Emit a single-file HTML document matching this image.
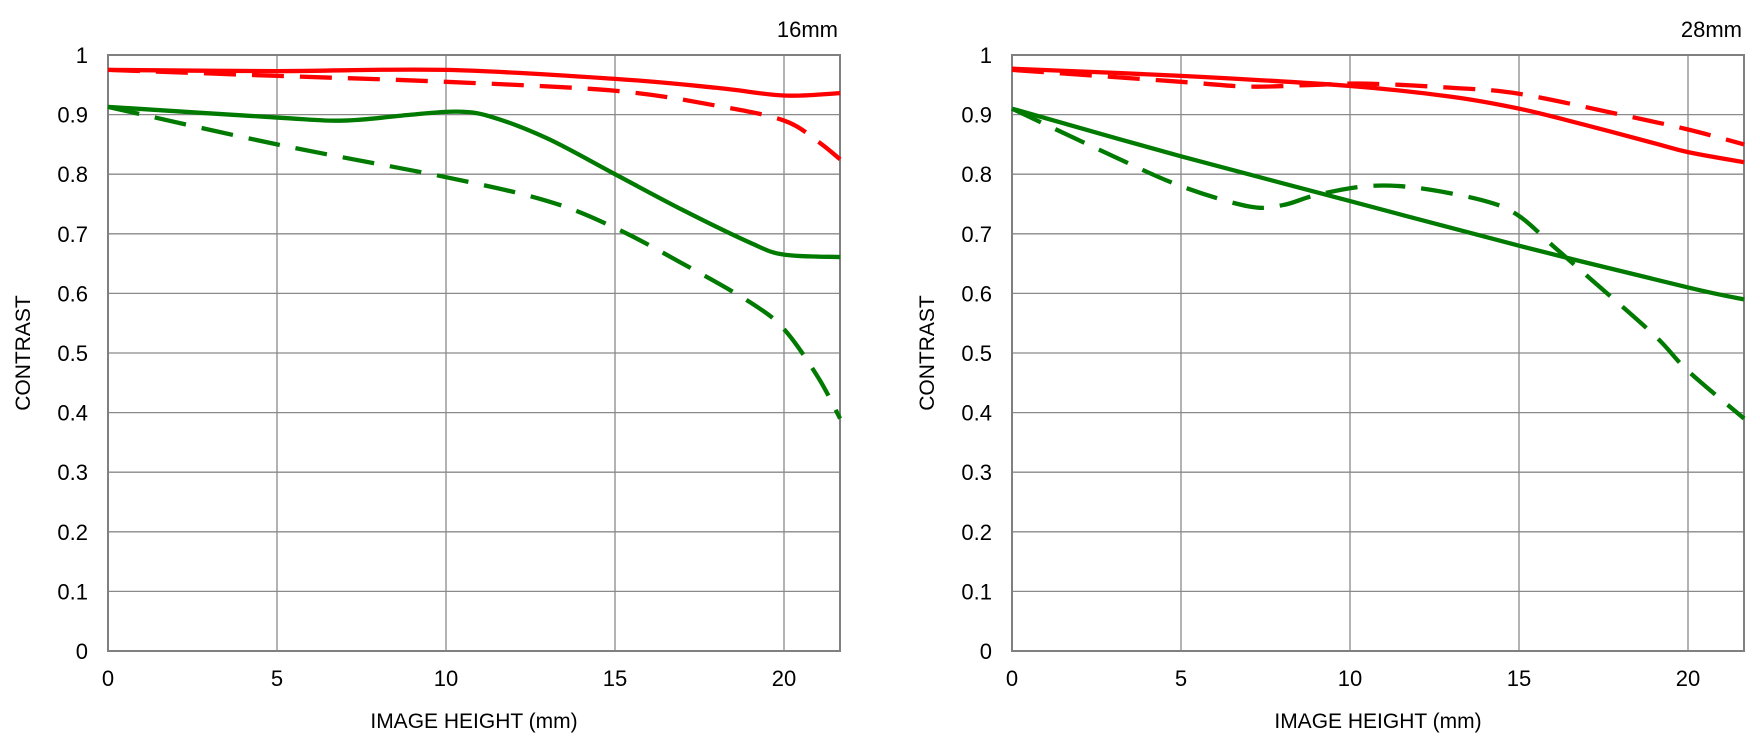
<!DOCTYPE html>
<html><head><meta charset="utf-8">
<style>
html,body{margin:0;padding:0;background:#fff;}
svg{display:block;font-family:"Liberation Sans","Noto Sans CJK JP",sans-serif;}
</style></head>
<body>
<svg id="s" width="1760" height="754" viewBox="0 0 1760 754" xmlns="http://www.w3.org/2000/svg">
<rect width="1760" height="754" fill="#fff"/>
</svg>
<script>
const S=document.getElementById('s');const NS='http://www.w3.org/2000/svg';
function el(t,a,txt){const e=document.createElementNS(NS,t);for(const k in a)e.setAttribute(k,a[k]);if(txt!==undefined)e.textContent=txt;S.appendChild(e);return e;}
const Y0=651,Y1=55,PX=33.8,W=732;
function chart(x0,title,series){
  const xr=x0+W;
  const yv=v=>Y0-(Y0-Y1)*v, xv=m=>x0+m*PX;
  for(let i=1;i<10;i++){el('line',{x1:x0,x2:xr,y1:yv(i/10),y2:yv(i/10),stroke:'#8a8a8a','stroke-width':1.3});}
  for(let m=5;m<=20;m+=5){el('line',{x1:xv(m),x2:xv(m),y1:Y1,y2:Y0,stroke:'#8a8a8a','stroke-width':1.3});}
  el('rect',{x:x0,y:Y1,width:W,height:Y0-Y1,fill:'none',stroke:'#808080','stroke-width':2});
  for(let i=0;i<=10;i++){const t=i==0?'0':i==10?'1':(i/10).toFixed(1);
    el('text',{x:x0-20,y:yv(i/10)+8,'text-anchor':'end','font-size':22,fill:'#000'},t);}
  for(let m=0;m<=20;m+=5){el('text',{x:xv(m),y:686,'text-anchor':'middle','font-size':22,fill:'#000'},String(m));}
  el('text',{x:x0+W/2,y:728,'text-anchor':'middle','font-size':21,fill:'#000'},'IMAGE HEIGHT (mm)');
  const cy=(Y0+Y1)/2;
  el('text',{x:x0-78,y:cy,'text-anchor':'middle','font-size':21,fill:'#000',transform:`rotate(-90 ${x0-78} ${cy})`},'CONTRAST');
  el('text',{x:xr-2,y:37,'text-anchor':'end','font-size':22,fill:'#000'},title);
  for(const s of series){
    const p=s.d.map(([m,v])=>[xv(m),yv(v)]);
    let d='M'+p[0][0]+','+p[0][1];
    for(let i=0;i<p.length-1;i++){
      const a=p[Math.max(0,i-1)],b=p[i],c=p[i+1],e=p[Math.min(p.length-1,i+2)];
      const c1=[b[0]+(c[0]-a[0])/6,b[1]+(c[1]-a[1])/6],c2=[c[0]-(e[0]-b[0])/6,c[1]-(e[1]-b[1])/6];
      d+=` C${c1[0]},${c1[1]} ${c2[0]},${c2[1]} ${c[0]},${c[1]}`;
    }
    const at={d:d,fill:'none',stroke:s.c,'stroke-width':4.3,'stroke-linejoin':'round'};
    if(s.dash)at['stroke-dasharray']='32,16';
    el('path',at);
  }
}
const R='#ff0000',G='#007a00';
const xe=21.66;
chart(108,'16mm',[
 {c:R,d:[[0,0.975],[5,0.973],[10,0.975],[15,0.96],[18,0.945],[20,0.932],[xe,0.936]]},
 {c:R,dash:1,d:[[0,0.975],[5,0.965],[10,0.955],[15,0.94],[18,0.915],[20,0.89],[21,0.855],[xe,0.825]]},
 {c:G,d:[[0,0.913],[5,0.895],[7,0.89],[9,0.9],[10.3,0.905],[11.3,0.897],[13,0.86],[15,0.80],[17,0.74],[19,0.685],[20,0.665],[xe,0.661]]},
 {c:G,dash:1,d:[[0,0.913],[5,0.85],[10,0.795],[13,0.755],[15,0.71],[17,0.65],[19,0.585],[20,0.54],[21,0.46],[xe,0.39]]}
]);
chart(1012,'28mm',[
 {c:R,d:[[0,0.977],[5,0.965],[10,0.948],[13,0.93],[15,0.91],[17,0.882],[19,0.852],[20,0.837],[xe,0.82]]},
 {c:R,dash:1,d:[[0,0.975],[5,0.955],[7,0.947],[9,0.95],[10.5,0.952],[13,0.945],[15,0.935],[18,0.9],[20,0.875],[xe,0.85]]},
 {c:G,d:[[0,0.91],[5,0.83],[10,0.755],[15,0.68],[20,0.61],[xe,0.59]]},
 {c:G,dash:1,d:[[0,0.91],[3,0.83],[5,0.78],[7,0.746],[8,0.748],[9,0.765],[10.5,0.78],[12,0.777],[14,0.755],[15,0.73],[16,0.68],[17,0.63],[19,0.53],[20,0.47],[xe,0.39]]}
]);
</script>
</body></html>
